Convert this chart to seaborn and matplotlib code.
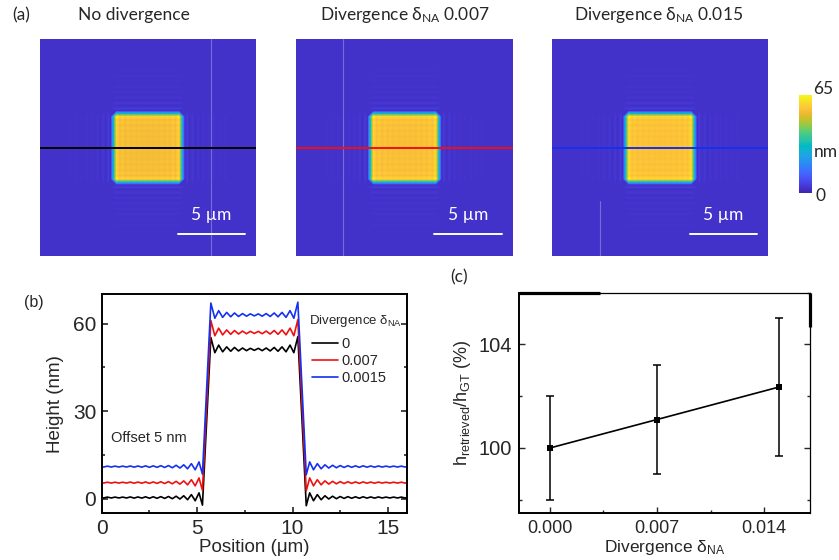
import numpy as np
import matplotlib
matplotlib.use("Agg")
import matplotlib.pyplot as plt
from matplotlib.colors import LinearSegmentedColormap
import seaborn as sns

sns.set_theme(style="white")
plt.rcParams["font.family"] = ["Liberation Sans", "DejaVu Sans"]
plt.rcParams["mathtext.default"] = "regular"

# ---- line profiles through the square (height in nm, before offset) ----
position_um = [
    0.0, 0.1, 0.3, 0.5, 0.7, 0.9, 1.1, 1.3, 1.5, 1.7, 1.9, 2.1, 2.3, 2.5,
    2.7, 2.9, 3.1, 3.3, 3.5, 3.7, 3.9, 4.1, 4.3, 4.5, 4.7, 4.9, 5.1, 5.28,
    5.72, 5.93, 6.13, 6.34, 6.55, 6.76, 6.96, 7.17, 7.38, 7.59, 7.79, 8.0,
    8.21, 8.41, 8.62, 8.83, 9.04, 9.24, 9.45, 9.66, 9.87, 10.07, 10.28,
    10.72, 10.9, 11.1, 11.3, 11.5, 11.7, 11.9, 12.1, 12.3, 12.5, 12.7, 12.9,
    13.1, 13.3, 13.5, 13.7, 13.9, 14.1, 14.3, 14.5, 14.7, 14.9, 15.1, 15.3,
    15.5, 15.7, 15.9, 16.0,
]
height_d0 = [
    0.4, 0.25, 0.55, 0.25, 0.55, 0.25, 0.55, 0.25, 0.6, 0.2, 0.6, 0.2, 0.65, 0.15,
    0.65, 0.15, 0.7, 0.1, 0.75, 0.0, 0.85, -0.1, 1.0, -0.35, 1.4, -0.7, 2.0, -2.2,
    55.2, 50.0, 52.6, 50.3, 52.0, 50.5, 51.8, 50.6, 51.6, 50.7, 51.5, 50.8,
    51.5, 50.7, 51.6, 50.6, 51.8, 50.5, 52.0, 50.3, 52.6, 50.0, 55.5,
    -2.4, 2.0, -0.7, 1.4, -0.35, 1.0, -0.1, 0.85, 0.0, 0.75, 0.1, 0.7,
    0.15, 0.65, 0.15, 0.65, 0.2, 0.6, 0.2, 0.6, 0.25, 0.55, 0.25, 0.55,
    0.25, 0.55, 0.25, 0.4,
]
height_d007 = [
    0.5, 0.35, 0.65, 0.35, 0.65, 0.35, 0.65, 0.35, 0.7, 0.3, 0.7, 0.3, 0.75, 0.25,
    0.75, 0.25, 0.8, 0.2, 0.85, 0.1, 0.95, 0.0, 1.1, -0.25, 1.5, -0.6, 2.1, -2.1,
    56.0, 50.8, 53.4, 51.1, 52.8, 51.3, 52.6, 51.4, 52.4, 51.5, 52.3, 51.6,
    52.3, 51.5, 52.4, 51.4, 52.6, 51.3, 52.8, 51.1, 53.4, 50.8, 56.3,
    -2.3, 2.1, -0.6, 1.5, -0.25, 1.1, 0.0, 0.95, 0.1, 0.85, 0.2, 0.8,
    0.25, 0.75, 0.25, 0.75, 0.3, 0.7, 0.3, 0.7, 0.35, 0.65, 0.35, 0.65,
    0.35, 0.65, 0.35, 0.5,
]
height_d015 = [
    1.0, 0.85, 1.15, 0.85, 1.15, 0.85, 1.15, 0.85, 1.2, 0.8, 1.2, 0.8, 1.25, 0.75,
    1.25, 0.75, 1.3, 0.7, 1.35, 0.6, 1.45, 0.5, 1.6, 0.25, 2.0, -0.1, 2.6, -1.6,
    57.0, 51.8, 54.4, 52.1, 53.8, 52.3, 53.6, 52.4, 53.4, 52.5, 53.3, 52.6,
    53.3, 52.5, 53.4, 52.4, 53.6, 52.3, 53.8, 52.1, 54.4, 51.8, 57.3,
    -1.8, 2.6, -0.1, 2.0, 0.25, 1.6, 0.5, 1.45, 0.6, 1.35, 0.7, 1.3,
    0.75, 1.25, 0.75, 1.25, 0.8, 1.2, 0.8, 1.2, 0.85, 1.15, 0.85, 1.15,
    0.85, 1.15, 0.85, 1.0,
]
offset_nm = 5
legend_labels = ["0", "0.007", "0.0015"]
image_titles = ["No divergence",
                "Divergence δ$_{NA}$ 0.007",
                "Divergence δ$_{NA}$ 0.015"]
line_colors = ["black", "#f01010", "#1430f0"]

# ---- retrieved step height vs divergence ----
divergence = [0.000, 0.007, 0.015]
ratio_pct = [100.0, 101.1, 102.36]
ratio_err = [2.0, 2.1, 2.68]
div_ticks = [0.000, 0.007, 0.014]

# MATLAB-style parula colour map
parula = LinearSegmentedColormap.from_list("parula", [
    (0.2422, 0.1504, 0.6603), (0.2647, 0.1978, 0.7952), (0.2783, 0.2559, 0.8991),
    (0.2810, 0.3228, 0.9579), (0.2699, 0.3892, 0.9906), (0.2206, 0.4603, 0.9973),
    (0.1786, 0.5289, 0.9682), (0.1540, 0.5902, 0.9218), (0.1248, 0.6459, 0.8883),
    (0.0689, 0.6948, 0.8394), (0.0067, 0.7312, 0.7660), (0.1408, 0.7584, 0.6842),
    (0.2161, 0.7843, 0.5923), (0.3406, 0.8008, 0.4789), (0.5044, 0.7993, 0.3480),
    (0.6720, 0.7793, 0.2227), (0.8203, 0.7498, 0.1535), (0.9393, 0.7288, 0.2100),
    (0.9970, 0.7659, 0.2199), (0.9786, 0.8386, 0.1766), (0.9597, 0.9135, 0.1423),
    (0.9769, 0.9839, 0.0805),
])

W, H = 839, 560
fig = plt.figure(figsize=(W / 100, H / 100), dpi=100)


def rect(x0, y0, x1, y1):
    return [x0 / W, 1 - y1 / H, (x1 - x0) / W, (y1 - y0) / H]


def ftext(x, y, s, **kw):
    fig.text(x / W, 1 - y / H, s, **kw)


title_font = dict(family=["Lato", "DejaVu Sans"], fontsize=12.5)

# ---- (a) height maps: separable square built from each profile,
#      shown with zero at the lowest point of the map ----
pos = np.asarray(position_um)
profiles = [np.asarray(h) for h in (height_d0, height_d007, height_d015)]
image_lefts = [39.5, 296.3, 551.7]
title_centers = [134, 404.5, 659]
seams = [(12.7, 0, 16), (3.47, 0, 16), (3.57, 11.9, 16)]
for left, prof, col, title, tx, seam in zip(image_lefts, profiles, line_colors,
                                            image_titles, title_centers, seams):
    ax = fig.add_axes(rect(left, 39.5, left + 216.5, 256))
    base = prof[0]
    step = np.median(prof[(pos > 6.5) & (pos < 9.5)]) - base
    shape = (prof - base) / step
    zmap = base + step * np.outer(shape, shape)
    zmap = zmap - zmap.min()
    ax.contourf(pos, pos, zmap, levels=np.linspace(0, 65, 261), cmap=parula,
                vmin=0, vmax=65, antialiased=False)
    ax.set_xlim(0, 16)
    ax.set_ylim(16, 0)
    sx, sy0, sy1 = seam
    ax.plot([sx, sx], [sy0, sy1], color="white", lw=0.8, alpha=0.28)
    ax.axhline(8.0, color=col, lw=1.4)
    ax.plot([10.2, 15.2], [14.35, 14.35], color="white", lw=1.4)
    ax.text(12.7, 13.0, "5 µm", color="white", ha="center", va="center",
            **title_font)
    ax.set_axis_off()
    ftext(tx, 15, title, ha="center", va="center", **title_font)

ftext(21, 15, "(a)", ha="center", va="center", **title_font)

# colour bar
cax = fig.add_axes(rect(799, 95, 811.7, 193.3))
cax.imshow(np.linspace(0, 65, 256)[:, None], cmap=parula, vmin=0, vmax=65,
           origin="lower", aspect="auto", extent=(0, 1, 0, 65))
cax.set_axis_off()
ftext(813, 89, "65", ha="left", va="center", **title_font)
ftext(814, 152, "nm", ha="left", va="center", **title_font)
ftext(816, 196, "0", ha="left", va="center", **title_font)

# ---- (b) line profiles ----
axb = fig.add_axes(rect(101.7, 294.3, 407, 513.3))
for i, (prof, col, lab) in enumerate(zip(profiles, line_colors, legend_labels)):
    sns.lineplot(x=pos, y=prof + i * offset_nm, color=col, lw=1.2,
                 label=lab, ax=axb, estimator=None, sort=False)
axb.set_xlim(0, 16)
axb.set_ylim(-5, 70)
axb.set_xticks([0, 5, 10, 15])
axb.set_xticks([2.5, 7.5, 12.5], minor=True)
axb.set_yticks([0, 30, 60])
axb.set_yticks([15, 45], minor=True)
axb.tick_params(which="both", direction="in", right=True, bottom=True,
                left=True, labelsize=15, width=1.2, pad=4)
axb.tick_params(which="major", length=4)
axb.tick_params(which="minor", length=2.5)
for sp in axb.spines.values():
    sp.set_color("black")
    sp.set_linewidth(1.4)
axb.set_xlabel("Position (μm)", fontsize=13.5, labelpad=1)
axb.set_ylabel("Height (nm)", fontsize=13.5, labelpad=6)
axb.text(0.03, 0.345, "Offset 5 nm", transform=axb.transAxes, fontsize=10.5,
         ha="left", va="center")
axb.text(0.68, 0.879, "Divergence δ$_{NA}$", transform=axb.transAxes,
         fontsize=9.5, ha="left", va="center")
axb.legend(loc="upper left", bbox_to_anchor=(0.69, 0.804), frameon=False,
           fontsize=10.5, handlelength=1.75, handletextpad=0.25,
           labelspacing=0.2, borderpad=0, borderaxespad=0)
ftext(34, 302, "(b)", ha="center", va="center", fontsize=11.5)

# ---- (c) height ratio vs divergence ----
axc = fig.add_axes(rect(519.3, 292.7, 810, 512.7))
sns.lineplot(x=divergence, y=ratio_pct, color="black", lw=1.2, marker="s",
             markersize=5, markeredgewidth=0, ax=axc, estimator=None)
axc.errorbar(divergence, ratio_pct, yerr=ratio_err, fmt="none", ecolor="black",
             elinewidth=1.1, capsize=3, capthick=1.1)
axc.set_xlim(-0.002, 0.017)
axc.set_ylim(97.5, 106)
axc.set_xticks(div_ticks)
axc.set_xticklabels([f"{v:.3f}" for v in div_ticks])
axc.set_xticks([0.0035, 0.0105], minor=True)
axc.set_yticks([100, 104])
axc.set_yticks([98, 102, 106], minor=True)
axc.tick_params(which="both", direction="in", right=True, bottom=True,
                left=True, width=1.0, pad=5)
axc.tick_params(axis="x", labelsize=13)
axc.tick_params(axis="y", labelsize=14.5)
axc.tick_params(which="major", length=4)
axc.tick_params(which="minor", length=2.5)
for name, sp in axc.spines.items():
    sp.set_color("black")
    sp.set_linewidth(1.4 if name in ("left", "bottom") else 0.9)
axc.plot([0, 0.278], [1, 1], color="black", lw=2.3, transform=axc.transAxes,
         clip_on=False, solid_capstyle="butt")
axc.plot([1, 1], [1, 0.845], color="black", lw=2.3, transform=axc.transAxes,
         clip_on=False, solid_capstyle="butt")
axc.set_xlabel("Divergence δ$_{NA}$", fontsize=12.5, labelpad=1)
axc.set_ylabel("h$_{retrieved}$/h$_{GT}$ (%)", fontsize=13, labelpad=4)
ftext(459, 277, "(c)", ha="center", va="center", **title_font)

fig.savefig("out.png", dpi=100)
